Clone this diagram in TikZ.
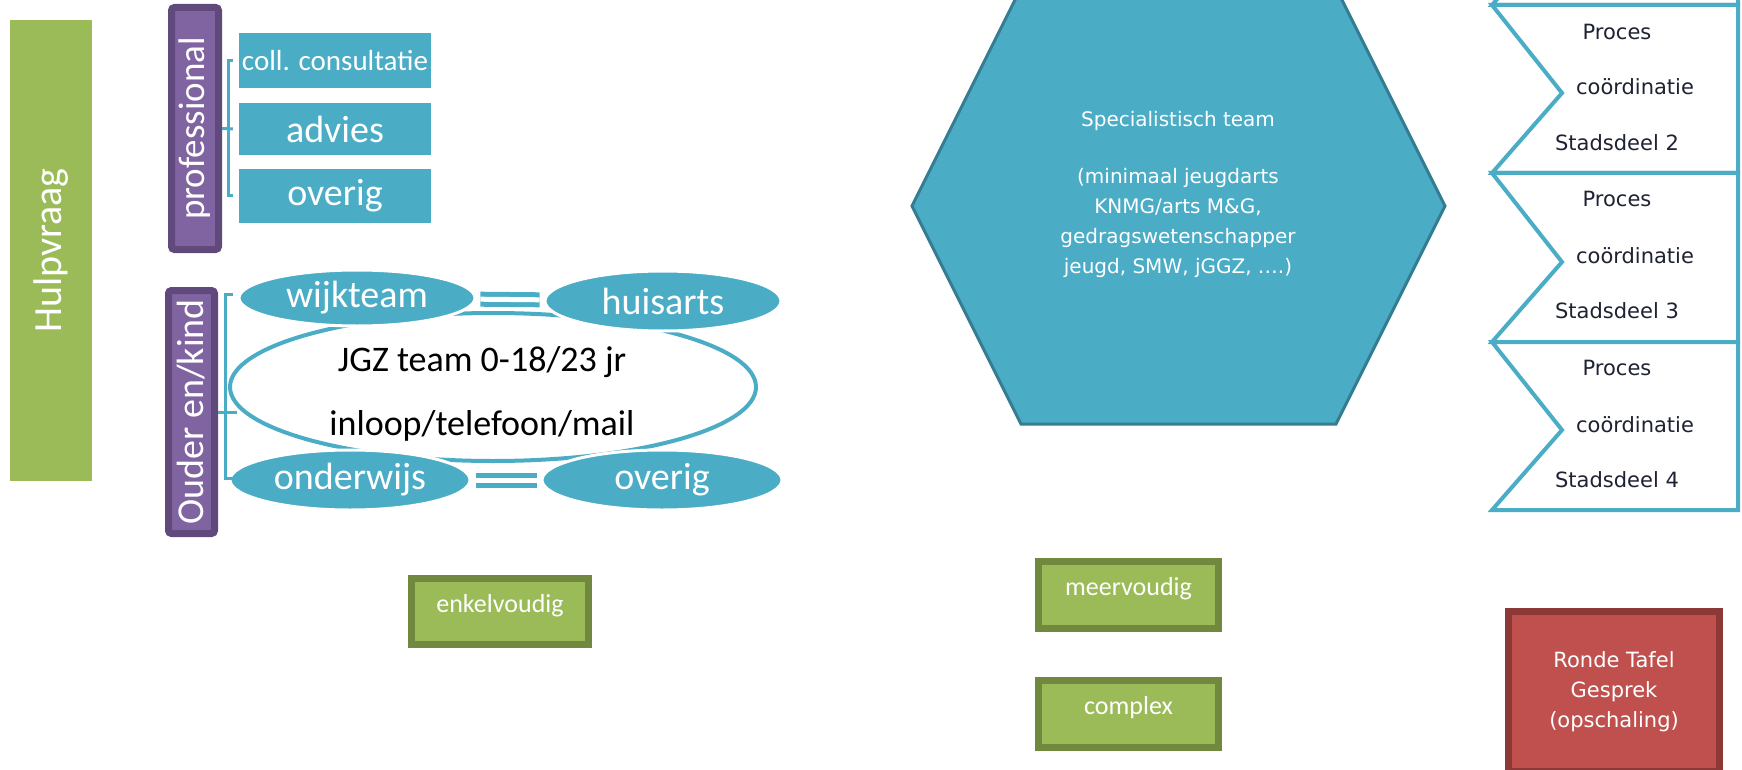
\documentclass[tikz,border=0pt]{standalone}
\usepackage{fontspec}
\setmainfont{Carlito}
\newfontfamily\tahoma{DejaVu Sans}
\usetikzlibrary{shapes.geometric}
\definecolor{blauw}{HTML}{4BACC6}
\definecolor{blauwrand}{HTML}{357D91}
\definecolor{paars}{HTML}{8064A2}
\definecolor{paarsrand}{HTML}{5F4A7B}
\definecolor{groen}{HTML}{9BBB59}
\definecolor{groenrand}{HTML}{71893F}
\definecolor{rood}{HTML}{C0504D}
\definecolor{roodrand}{HTML}{8C3836}
\definecolor{donker}{HTML}{1F2233}

\begin{document}
\begin{tikzpicture}[x=1pt, y=-1pt, every node/.style={inner sep=0pt},
    paarsvak/.style={rectangle, rounded corners=3pt, fill=paars, draw=paarsrand, line width=7pt, text=white, font=\fontsize{37}{40}\selectfont},
    blauwvak/.style={rectangle, fill=blauw, text=white, minimum width=192pt},
    ovaal/.style={ellipse, fill=blauw, draw=white, line width=3pt, text=white, font=\fontsize{38}{40}\selectfont},
    dubbel/.style={draw=blauw, double=white, double distance=5pt, line width=5pt, shorten <=4pt, shorten >=4pt},
    haak/.style={draw=blauw, line width=3pt},
    pijl/.style={draw=blauw, line width=4pt, fill=white, line join=miter},
    stad/.style={text=donker, font=\tahoma\fontsize{21}{24}\selectfont},
    groenvak/.style={rectangle, fill=groen, draw=groenrand, line width=7pt, text=white, text depth=17pt, font=\fontsize{26}{30}\selectfont}]
    \useasboundingbox (0,0) rectangle (1742,770);
    \clip (0,0) rectangle (1742,770);

    \node[fill=groen, minimum width=82pt, minimum height=461pt, text=white, font=\fontsize{40}{44}\selectfont] (hulp) at (51,250.5) {\rotatebox{90}{Hulpvraag}};

    \node[paarsvak, minimum width=47pt, minimum height=242pt] (prof) at (195,128.5) {\rotatebox{90}{professional}};
    \node[blauwvak, minimum height=55pt, font=\fontsize{29}{32}\selectfont] (coll) at (335,60.5) {coll. consultatie};
    \node[blauwvak, minimum height=52pt, font=\fontsize{38}{40}\selectfont] (adv) at (335,129) {advies};
    \node[blauwvak, minimum height=54pt, font=\fontsize{38}{40}\selectfont] (ovp) at (335,196) {overig};
    \draw[haak] ([xshift=-6pt]coll.west) -- ([xshift=-10pt]coll.west) -- ([xshift=-10pt]ovp.west) -- ([xshift=-6pt]ovp.west);
    \draw[haak] (prof.east) -- ([xshift=-6pt]adv.west);

    \node[paarsvak, minimum width=46pt, minimum height=243pt, font=\fontsize{38}{40}\selectfont] (ouder) at (191.5,412) {\rotatebox{90}{Ouder en/kind}};
    \node[ellipse, draw=blauw, line width=4pt, fill=white, minimum width=526pt, minimum height=148pt] (jgz) at (493,387) {};
    \node[align=center, font=\fontsize{36}{64}\selectfont] (jgztekst) at (482,394) {JGZ team 0-18/23 jr\\inloop/telefoon/mail};
    \node[ovaal, minimum width=236pt, minimum height=56pt] (wijk) at (357,298) {wijkteam};
    \node[ovaal, minimum width=236pt, minimum height=60pt] (huis) at (663,301) {huisarts};
    \node[ovaal, minimum width=240pt, minimum height=60pt] (ond) at (350,480) {onderwijs};
    \node[ovaal, minimum width=240pt, minimum height=60pt] (ovo) at (662,480) {overig};
    \draw[dubbel] (wijk) -- (huis);
    \draw[dubbel] (ond) -- (ovo);
    \coordinate (obo) at (225,294);
    \coordinate (oon) at (225,478);
    \draw[haak] ([xshift=8pt]obo) -- (obo) -- (oon) -- ([xshift=8pt]oon);
    \draw[haak] (ouder.east) -- ++(19,0);

    \draw[draw=blauwrand, fill=blauw, line width=3pt, line join=miter] (912,206) -- (1021,424) -- (1336,424) -- (1445,206) -- (1336,-12) -- (1021,-12) -- cycle;
    \node[align=center, text=white, font=\tahoma\fontsize{20}{30}\selectfont] (spec) at (1178,194) {Specialistisch team\\[27pt](minimaal jeugdarts\\KNMG/arts M\&G,\\gedragswetenschapper\\jeugd, SMW, jGGZ, ….)};

    \draw[pijl] (1492,-164) -- (1738,-164) -- (1738,5) -- (1492,5) -- (1562,-76) -- cycle;
    \draw[pijl] (1492,5) -- (1738,5) -- (1738,173) -- (1492,173) -- (1562,93) -- cycle;
    \draw[pijl] (1492,173) -- (1738,173) -- (1738,342) -- (1492,342) -- (1562,262) -- cycle;
    \draw[pijl] (1492,342) -- (1738,342) -- (1738,510) -- (1492,510) -- (1562,430) -- cycle;
    \node[stad] (proc2) at (1617,32) {Proces};
    \node[stad] (coor2) at (1635,87) {coördinatie};
    \node[stad] (stad2) at (1617,143) {Stadsdeel 2};
    \node[stad] (proc3) at (1617,199) {Proces};
    \node[stad] (coor3) at (1635,256) {coördinatie};
    \node[stad] (stad3) at (1617,311) {Stadsdeel 3};
    \node[stad] (proc4) at (1617,368) {Proces};
    \node[stad] (coor4) at (1635,425) {coördinatie};
    \node[stad] (stad4) at (1617,480) {Stadsdeel 4};

    \node[groenvak, minimum width=177pt, minimum height=66pt] (enkel) at (500,611.5) {enkelvoudig};
    \node[groenvak, minimum width=180pt, minimum height=67pt] (meer) at (1128.5,595) {meervoudig};
    \node[groenvak, minimum width=180pt, minimum height=67pt] (compl) at (1128.5,714) {complex};
    \node[fill=rood, draw=roodrand, line width=7pt, minimum width=211pt, minimum height=160pt, align=center, text=white, font=\tahoma\fontsize{21}{30}\selectfont] (rond) at (1614,691.5) {Ronde Tafel\\Gesprek\\(opschaling)};
\end{tikzpicture}
\end{document}
